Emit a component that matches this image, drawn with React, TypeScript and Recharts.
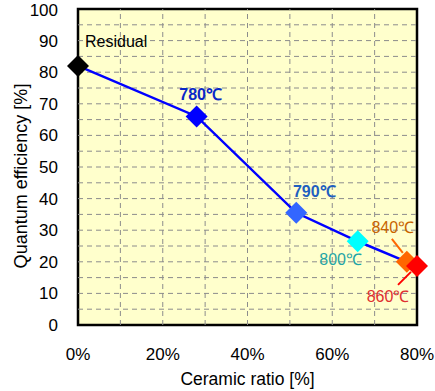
import { LineChart, Line, XAxis, YAxis, ReferenceArea, ReferenceLine, LabelList, Label } from 'recharts';

// measured points: sintering temperature, ceramic ratio (%), quantum efficiency (%)
const names = ['Residual', '780℃', '790℃', '800℃', '840℃', '860℃'];
const ceramicRatio = [0, 28, 51.5, 66, 77.6, 80];
const efficiency = [82, 66, 35.5, 26.5, 20, 18.7];

const xTicks = [0, 20, 40, 60, 80];
const yTicks = [0, 10, 20, 30, 40, 50, 60, 70, 80, 90, 100];
const xGrid = [10, 20, 30, 40, 50, 60, 70];
const yGrid = [5, 10, 15, 20, 25, 30, 35, 40, 45, 50, 55, 60, 65, 70, 75, 80, 85, 90, 95];

const data = names.map((name, i) => ({
  name,
  ratio: ceramicRatio[i],
  qe: efficiency[i],
}));

// marker colour and label placement per point
const pointStyle: Record<string, { fill: string; text: string; dx: number; dy: number; anchor: string; bold: boolean; leader?: [number, number, number, number] }> = {
  'Residual': { fill: '#000000', text: '#000000', dx: 7, dy: -24, anchor: 'start', bold: false },
  '780℃': { fill: '#0000ff', text: '#0a28c8', dx: 4, dy: -22, anchor: 'middle', bold: true },
  '790℃': { fill: '#3366ff', text: '#1f5fc0', dx: 18, dy: -21, anchor: 'middle', bold: true },
  '800℃': { fill: '#00ffff', text: '#1fa5a5', dx: -17, dy: 18, anchor: 'middle', bold: false },
  '840℃': { fill: '#ff6600', text: '#c86400', dx: -14, dy: -34, anchor: 'middle', bold: false, leader: [-15, -23, -4, -9] },
  '860℃': { fill: '#ff0000', text: '#e03030', dx: -29, dy: 31, anchor: 'middle', bold: false, leader: [-19, 19, -6, 6] },
};

const Diamond = (props: any) => {
  const { cx, cy, payload } = props;
  if (cx == null || cy == null) return null;
  const r = 11;
  const fill = pointStyle[payload.name].fill;
  return (
    <path
      d={`M${cx},${cy - r} L${cx + r},${cy} L${cx},${cy + r} L${cx - r},${cy} Z`}
      fill={fill}
    />
  );
};

const PointLabel = (props: any) => {
  const { x, y, value } = props;
  const s = pointStyle[value];
  if (!s) return null;
  return (
    <g>
      {s.leader && (
        <line
          x1={x + s.leader[0]}
          y1={y + s.leader[1]}
          x2={x + s.leader[2]}
          y2={y + s.leader[3]}
          stroke={s.fill}
          strokeWidth={2}
        />
      )}
      <text
        x={x + s.dx}
        y={y + s.dy}
        textAnchor={s.anchor}
        dominantBaseline="central"
        fill={s.text}
        fontSize={16}
        fontWeight={s.bold ? 'bold' : 'normal'}
      >
        {value}
      </text>
    </g>
  );
};

// rotated y-axis title, sitting a little below the plot's centre
const YTitle = (props: any) => {
  const { viewBox } = props;
  const cx = viewBox.x + 21;
  const cy = viewBox.y + viewBox.height / 2 + 9;
  return (
    <text
      x={cx}
      y={cy}
      transform={`rotate(-90 ${cx} ${cy})`}
      textAnchor="middle"
      dominantBaseline="central"
      fontSize={18}
      fill="#000"
    >
      Quantum efficiency [%]
    </text>
  );
};

const XTitle = (props: any) => {
  const { viewBox } = props;
  return (
    <text
      x={viewBox.x + viewBox.width / 2}
      y={viewBox.y + 54}
      textAnchor="middle"
      dominantBaseline="central"
      fontSize={17.5}
      fill="#000"
    >
      Ceramic ratio [%]
    </text>
  );
};

export default function App() {
  return (
    <div style={{ position: 'absolute', left: 0, top: 0, fontFamily: '"Liberation Sans", Arial, sans-serif' }}>
      <LineChart
        width={435}
        height={391}
        data={data}
        margin={{ top: 9, right: 18, left: 0, bottom: 0 }}
      >
        <XAxis
          type="number"
          dataKey="ratio"
          domain={[0, 80]}
          ticks={xTicks}
          tickFormatter={(v) => `${v}%`}
          axisLine={false}
          tickLine={false}
          tick={{ fontSize: 17, fill: '#000' }}
          tickMargin={17}
          height={66}
        >
          <Label content={<XTitle />} />
        </XAxis>
        <YAxis
          type="number"
          domain={[0, 100]}
          ticks={yTicks}
          axisLine={false}
          tickLine={false}
          tick={{ fontSize: 17, fill: '#000' }}
          tickMargin={14}
          width={78}
        >
          <Label content={<YTitle />} />
        </YAxis>

        {/* yellow plot background */}
        <ReferenceArea x1={0} x2={80} y1={0} y2={100} fill="#ffffcc" fillOpacity={1} stroke="none" />

        {/* dashed grid */}
        {xGrid.map((v) => (
          <ReferenceLine key={`gx${v}`} x={v} stroke="#8c8c8c" strokeDasharray="5 4" />
        ))}
        {yGrid.map((v) => (
          <ReferenceLine key={`gy${v}`} y={v} stroke="#8c8c8c" strokeDasharray="5 4" />
        ))}

        {/* frame */}
        <ReferenceArea x1={0} x2={80} y1={0} y2={100} fill="none" stroke="#000" strokeWidth={2.5} />

        <Line
          type="linear"
          dataKey="qe"
          stroke="#0000ff"
          strokeWidth={2.5}
          dot={<Diamond />}
          activeDot={false}
          isAnimationActive={false}
        >
          <LabelList dataKey="name" content={<PointLabel />} />
        </Line>
      </LineChart>
    </div>
  );
}
